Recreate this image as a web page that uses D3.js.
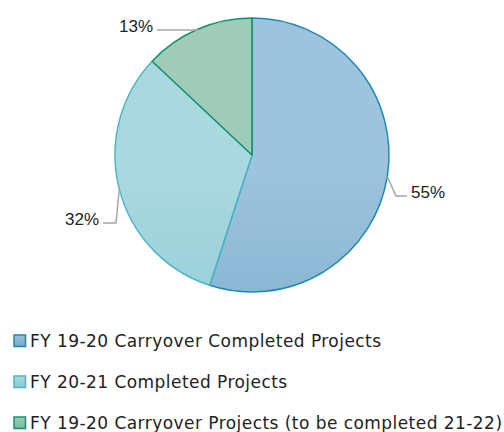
<!DOCTYPE html>
<html>
<head>
<meta charset="utf-8">
<script src="https://cdn.jsdelivr.net/npm/d3@7"></script>
<style>
  body { margin: 0; background: #fff; }
  svg text { font-family: "Liberation Sans", Arial, sans-serif; fill: #222; }
  svg text.legend-label { font-family: "DejaVu Sans", sans-serif; letter-spacing: 0.45px; }
</style>
</head>
<body>
<div id="chart"></div>
<script>
"use strict";

// Data
const categories = [
    "FY 19-20 Carryover Completed Projects",
    "FY 20-21 Completed Projects",
    "FY 19-20 Carryover Projects (to be completed 21-22)"
];
const shares = [55, 32, 13];
const pctLabels = ["55%", "32%", "13%"];

// Colours: gradient top, gradient bottom, outline
const fillTop = ["#9ec3dc", "#aad8df", "#a0cbb8"];
const fillBottom = ["#74a9c9", "#88c8d3", "#7bb9a1"];
const strokes = ["#1b89b4", "#4cb6c7", "#12936e"];

const width = 504, height = 432;
const cx = 252, cy = 155, radius = 137;

// Label placement relative to pie centre (elbow point, label end point)
const labelLayout = [
    {elbow: [144, 41], end: [155, 41], anchor: "start"},
    {elbow: [-136, 68], end: [-149, 68], anchor: "end"},
    {elbow: [-56, -125], end: [-95, -125], anchor: "end"}
];

const svg = d3.select("#chart").append("svg")
    .attr("width", width)
    .attr("height", height);

const defs = svg.append("defs");
shares.forEach(function(d, i) {
    let g = defs.append("linearGradient")
        .attr("id", "grad" + i)
        .attr("gradientUnits", "userSpaceOnUse")
        .attr("x1", 0).attr("x2", 0)
        .attr("y1", cy - radius).attr("y2", cy + radius);
    g.append("stop").attr("offset", "0%").attr("stop-color", fillTop[i]);
    g.append("stop").attr("offset", "100%").attr("stop-color", fillBottom[i]);

    let lg = defs.append("linearGradient")
        .attr("id", "lgrad" + i)
        .attr("x1", 0).attr("x2", 0).attr("y1", 0).attr("y2", 1);
    lg.append("stop").attr("offset", "0%").attr("stop-color", fillTop[i]);
    lg.append("stop").attr("offset", "100%").attr("stop-color", fillBottom[i]);
});

const pie = d3.pie().sort(null).value(function(d) { return d; });
const arc = d3.arc().innerRadius(0).outerRadius(radius);
const arcs = pie(shares);

const pieG = svg.append("g").attr("transform", "translate(" + cx + "," + cy + ")");

pieG.selectAll("path.slice").data(arcs).enter().append("path")
    .attr("class", "slice")
    .attr("d", arc)
    .attr("fill", function(d, i) { return "url(#grad" + i + ")"; })
    .attr("stroke", function(d, i) { return strokes[i]; })
    .attr("stroke-width", 1.5)
    .attr("stroke-linejoin", "round");

// Leader lines: start on the rim at the slice's middle angle
pieG.selectAll("polyline.leader").data(arcs).enter().append("polyline")
    .attr("class", "leader")
    .attr("fill", "none")
    .attr("stroke", "#a6a6a6")
    .attr("stroke-width", 1.5)
    .attr("points", function(d, i) {
        let mid = (d.startAngle + d.endAngle) / 2;
        let sx = Math.sin(mid) * radius, sy = -Math.cos(mid) * radius;
        let L = labelLayout[i];
        return [[sx, sy], L.elbow, L.end].map(function(p) { return p.join(","); }).join(" ");
    });

pieG.selectAll("text.pct").data(arcs).enter().append("text")
    .attr("class", "pct")
    .attr("x", function(d, i) {
        let L = labelLayout[i];
        return L.end[0] + (L.anchor === "start" ? 4 : -4);
    })
    .attr("y", function(d, i) { return labelLayout[i].end[1]; })
    .attr("dy", "0.1em")
    .attr("text-anchor", function(d, i) { return labelLayout[i].anchor; })
    .style("font-size", "17px")
    .text(function(d, i) { return pctLabels[i]; });

// Legend
const legendY = d3.scalePoint().domain(categories).range([341, 423]);

const legend = svg.selectAll("g.legend").data(categories).enter().append("g")
    .attr("class", "legend")
    .attr("transform", function(d) { return "translate(14," + legendY(d) + ")"; });

legend.append("rect")
    .attr("x", 0).attr("y", -6)
    .attr("width", 11.5).attr("height", 11.5)
    .attr("fill", function(d, i) { return "url(#lgrad" + i + ")"; })
    .attr("stroke", function(d, i) { return strokes[i]; })
    .attr("stroke-width", 1.5);

legend.append("text")
    .attr("class", "legend-label")
    .attr("x", 16)
    .attr("y", 0)
    .attr("dy", "0.36em")
    .style("font-size", "17px")
    .text(function(d) { return d; });
</script>
</body>
</html>
